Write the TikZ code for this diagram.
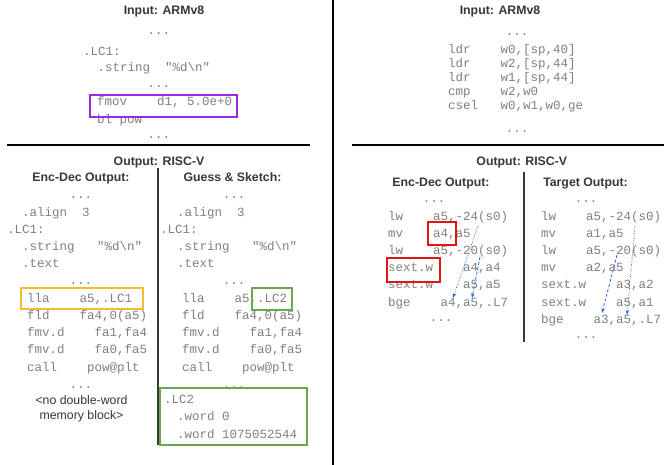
\documentclass[tikz,border=0pt]{standalone}
\usepackage{fontspec}
\setmainfont{Liberation Sans}
\newfontfamily\monof{Liberation Mono}
\usetikzlibrary{arrows.meta}
\definecolor{codegray}{RGB}{128,128,128}
\definecolor{titlegray}{RGB}{55,55,60}
\definecolor{boxpurple}{RGB}{155,40,230}
\definecolor{boxyellow}{RGB}{245,188,50}
\definecolor{boxgreen}{RGB}{106,168,79}
\definecolor{boxred}{RGB}{228,20,20}
\definecolor{arrblue}{RGB}{40,100,220}
\tikzset{
  code/.style={anchor=base west, inner sep=0pt, text=codegray, font=\monof\fontsize{12.5}{15}\selectfont},
  codec/.style={code, anchor=base},
  ttl/.style={anchor=base, inner sep=0pt, text=titlegray, font=\bfseries\fontsize{12.3}{15}\selectfont},
  note/.style={anchor=base, inner sep=0pt, text=titlegray, font=\fontsize{12.3}{15}\selectfont},
  rule/.style={draw=black, line width=1.5pt},
  divider/.style={draw=titlegray, line width=1.4pt},
  hbox/.style={line width=1.5pt},
  arr/.style={draw=arrblue, line width=0.8pt, -{Stealth[length=5pt,width=3.5pt]}},
}
\begin{document}
\begin{tikzpicture}[x=1pt,y=-1pt]
\fill[white] (0,0) rectangle (670,465);
\useasboundingbox (0,0) rectangle (670,465);
% main separators
\draw[draw=black, line width=1.8pt] (333,0) -- (333,465);
\draw[rule] (7,145) -- (310,145);
\draw[rule] (352,145) -- (664,145);
\draw[divider] (158,168) -- (158,445);
\draw[divider] (524,172) -- (524,342);

% ---------------- left panel: input ----------------
\node[ttl] (tinL) at (164,14.4) {Input: ARMv8};
\node[codec] (ltd1) at (159,35) {...};
\node[code] (lt1) at (83,55.5) {.LC1:};
\node[code] (lt2) at (97.5,71.5) {.string~~"\%d\textbackslash n"};
\node[codec] (ltd2) at (159,88) {...};
\node[code] (lt3) at (97,106) {fmov~~~~d1, 5.0e+0};
\node[code] (lt4) at (97,123.5) {bl pow};
\node[codec] (ltd3) at (159,139) {...};
\draw[hbox, draw=boxpurple] (90,95) rectangle (237,117);

% ---------------- left panel: output ----------------
\node[ttl] (toutL) at (159,165.4) {Output: RISC-V};
\node[ttl] (hEDL) at (81,181.5) {Enc-Dec Output:};
\node[ttl] (hGS) at (232.5,181.5) {Guess \& Sketch:};

% Enc-Dec column
\node[codec] (ad1) at (81,199) {...};
\node[code] (a1) at (22,216.2) {.align~~3};
\node[code] (a2) at (7,233.4) {.LC1:};
\node[code] (a3) at (22,250.6) {.string~~~"\%d\textbackslash n"};
\node[code] (a4) at (22,267.8) {.text};
\node[codec] (ad2) at (81,285) {...};
\node[code] (a5) at (27,302.2) {lla~~~~a5,.LC1};
\node[code] (a6) at (27,319.4) {fld~~~~fa4,0(a5)};
\node[code] (a7) at (27,336.6) {fmv.d~~~~fa1,fa4};
\node[code] (a8) at (27,353.8) {fmv.d~~~~fa0,fa5};
\node[code] (a9) at (27,371) {call~~~~pow@plt};
\node[codec] (ad3) at (81,388.2) {...};
\node[note] (an1) at (81.5,404.5) {<no double-word};
\node[note] (an2) at (81.5,419.5) {memory block>};
\draw[hbox, draw=boxyellow] (21,288) rectangle (143,309);

% Guess & Sketch column
\node[codec] (bd1) at (234,199) {...};
\node[code] (b1) at (177,216.2) {.align~~3};
\node[code] (b2) at (160,233.4) {.LC1:};
\node[code] (b3) at (177,250.6) {.string~~~"\%d\textbackslash n"};
\node[code] (b4) at (177,267.8) {.text};
\node[codec] (bd2) at (234,285) {...};
\node[code] (b5) at (182,302.2) {lla~~~~a5,.LC2};
\node[code] (b6) at (182,319.4) {fld~~~~fa4,0(a5)};
\node[code] (b7) at (182,336.6) {fmv.d~~~~fa1,fa4};
\node[code] (b8) at (182,353.8) {fmv.d~~~~fa0,fa5};
\node[code] (b9) at (182,371) {call~~~~pow@plt};
\node[codec] (bd3) at (234,388.2) {...};
\node[code] (b10) at (164,403.5) {.LC2};
\node[code] (b11) at (177,420.5) {.word 0};
\node[code] (b12) at (177,438) {.word 1075052544};
\draw[hbox, draw=boxgreen] (252,288) rectangle (292,310);
\draw[hbox, draw=boxgreen] (160,388) rectangle (307,445);

% ---------------- right panel: input ----------------
\node[ttl] (tinR) at (500,14.4) {Input: ARMv8};
\node[codec] (rd1) at (517,36) {...};
\node[code] (r1) at (448,53.5) {ldr~~~~w0,[sp,40]};
\node[code] (r2) at (448,67.5) {ldr~~~~w2,[sp,44]};
\node[code] (r3) at (448,81.5) {ldr~~~~w1,[sp,44]};
\node[code] (r4) at (448,95.5) {cmp~~~~w2,w0};
\node[code] (r5) at (448,109.5) {csel~~~w0,w1,w0,ge};
\node[codec] (rd2) at (517,133) {...};

% ---------------- right panel: output ----------------
\node[ttl] (toutR) at (521.8,165.4) {Output: RISC-V};
\node[ttl] (hEDR) at (441,186.5) {Enc-Dec Output:};
\node[ttl] (hTO) at (585.5,186.5) {Target Output:};

% Enc-Dec column
\node[codec] (cd1) at (434,203) {...};
\node[code] (c1) at (388,220.2) {lw~~~~a5,-24(s0)};
\node[code] (c2) at (388,237.4) {mv~~~~a4,a5};
\node[code] (c3) at (388,254.6) {lw~~~~a5,-20(s0)};
\node[code] (c4) at (388,271.8) {sext.w~~~~a4,a4};
\node[code] (c5) at (388,289) {sext.w~~~~a5,a5};
\node[code] (c6) at (388,306.2) {bge~~~~a4,a5,.L7};
\node[codec] (cd2) at (441,322) {...};
\draw[hbox, draw=boxred] (428,222) rectangle (456,245);
\draw[hbox, draw=boxred] (387,258) rectangle (440,282);

% Target column
\node[codec] (dd1) at (586,203) {...};
\node[code] (d1) at (541,220.2) {lw~~~~a5,-24(s0)};
\node[code] (d2) at (541,237.4) {mv~~~~a1,a5};
\node[code] (d3) at (541,254.6) {lw~~~~a5,-20(s0)};
\node[code] (d4) at (541,271.8) {mv~~~~a2,a5};
\node[code] (d5) at (541,289) {sext.w~~~~a3,a2};
\node[code] (d6) at (541,306.2) {sext.w~~~~a5,a1};
\node[code] (d7) at (541,323.4) {bge~~~~a3,a5,.L7};
\node[codec] (dd2) at (586,339) {...};

% dependency arrows
\coordinate (e1s) at (478,226);
\coordinate (e1e) at (453,298);
\coordinate (e2s) at (480,257);
\coordinate (e2e) at (472,298);
\coordinate (f1s) at (635,226);
\coordinate (f1e) at (627,315);
\coordinate (f2s) at (617,255);
\coordinate (f2e) at (602,313);
\draw[arr, dash pattern=on 0.8pt off 1.6pt] (e1s) -- (e1e);
\draw[arr, dash pattern=on 3pt off 2pt] (e2s) -- (e2e);
\draw[arr, dash pattern=on 0.8pt off 1.6pt] (f1s) -- (f1e);
\draw[arr, dash pattern=on 3pt off 2pt] (f2s) -- (f2e);
\end{tikzpicture}
\end{document}
